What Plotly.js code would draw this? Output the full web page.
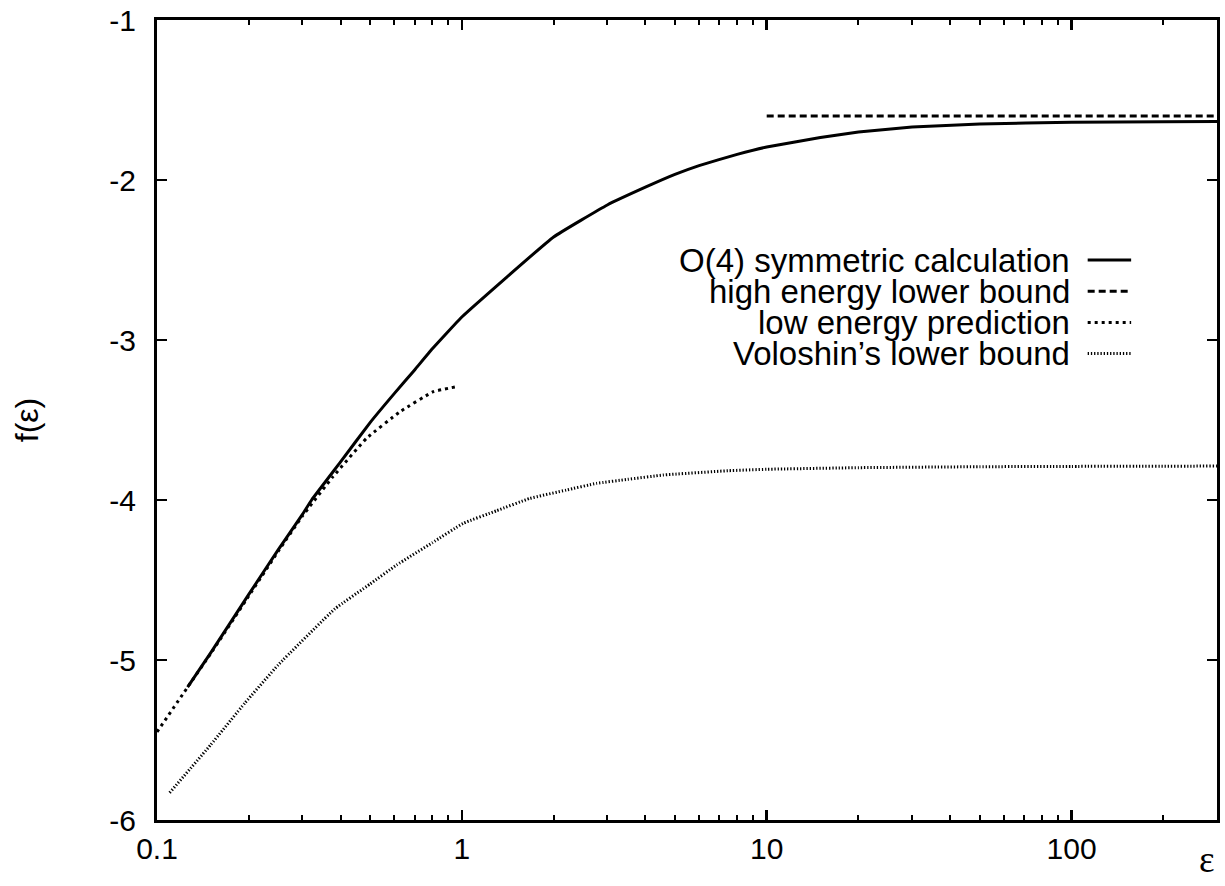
<!DOCTYPE html>
<html>
<head>
<meta charset="utf-8">
<script src="https://cdn.plot.ly/plotly-3.0.1.min.js"></script>
<style>html,body{margin:0;padding:0;background:#fff;}#chart{width:1225px;height:886px;}</style>
</head>
<body>
<div id="chart"></div>
<script>
// ---- data ----
const seriesNames = ["O(4) symmetric calculation", "high energy lower bound", "low energy prediction", "Voloshin\u2019s lower bound"];

const xSolid = [0.126, 0.15, 0.2, 0.25, 0.3, 0.3215, 0.4, 0.5, 0.6, 0.7, 0.8, 1, 2, 3, 4, 5, 6, 8, 10, 15, 20, 30, 50, 100, 200, 300];
const fSolid = [-5.17, -4.955, -4.59, -4.31, -4.09, -4.0, -3.762, -3.516, -3.335, -3.187, -3.055, -2.856, -2.356, -2.156, -2.045, -1.965, -1.91, -1.84, -1.794, -1.735, -1.70, -1.669, -1.65, -1.639, -1.636, -1.634];

const xHigh = [10, 300];
const fHigh = [-1.6, -1.6];

const xLow = [0.1, 0.126, 0.15, 0.2, 0.25, 0.3, 0.378, 0.487, 0.627, 0.806, 0.96];
const fLow = [-5.45, -5.17, -4.96, -4.60, -4.32, -4.10, -3.854, -3.614, -3.448, -3.323, -3.292];

const xVol = [0.11, 0.15, 0.194, 0.25, 0.3835, 0.5, 0.611, 0.8, 1.01, 1.3, 1.671, 2.2, 2.764, 3.5, 4.57, 7.46, 10, 20, 50, 100, 300];
const fVol = [-5.83, -5.53, -5.27, -5.03, -4.68, -4.525, -4.406, -4.267, -4.146, -4.067, -3.99, -3.938, -3.896, -3.871, -3.844, -3.817, -3.808, -3.798, -3.792, -3.79, -3.788];

const xTickVals = [0.1, 1, 10, 100];
const xTickText = ["0.1", "1", "10", "100"];
const xMinorVals = [0.2,0.3,0.4,0.5,0.6,0.7,0.8,0.9,2,3,4,5,6,7,8,9,20,30,40,50,60,70,80,90,200];
const yTickVals = [-6, -5, -4, -3, -2, -1];
const yTickText = ["-6", "-5", "-4", "-3", "-2", "-1"];

// ---- styles ----
const styles = [
  {color: "#000", width: 3, dash: "solid"},
  {color: "#000", width: 3, dash: "7px,4px"},
  {color: "#000", width: 3, dash: "3px,4px"},
  {color: "#000", width: 3, dash: "1.3px,1.9px"}
];
const xs = [xSolid, xHigh, xLow, xVol];
const ys = [fSolid, fHigh, fLow, fVol];

const traces = seriesNames.map((n, i) => ({
  x: xs[i], y: ys[i], name: n, type: "scatter", mode: "lines",
  line: {color: styles[i].color, width: styles[i].width, dash: styles[i].dash, shape: "spline", smoothing: 0.3},
  showlegend: false, hoverinfo: "skip"
}));

const font = "Liberation Sans, Arial, Helvetica, sans-serif";

// legend built as annotations + sample lines (text right-aligned, sample on the right)
const legTextX = 0.863, legS0 = 0.878, legS1 = 0.919;
const legY = [0.7, 0.661, 0.622, 0.583];
const annotations = seriesNames.map((n, i) => ({
  xref: "paper", yref: "paper", x: legTextX, y: legY[i], xanchor: "right", yanchor: "middle",
  text: n, showarrow: false, font: {family: font, size: 33, color: "#000"}
}));
const shapes = seriesNames.map((n, i) => ({
  type: "line", xref: "paper", yref: "paper", x0: legS0, x1: legS1, y0: legY[i], y1: legY[i],
  line: {color: styles[i].color, width: styles[i].width, dash: styles[i].dash}
}));
annotations.push({
  xref: "paper", yref: "paper", x: 0.9906, y: -0.0775, xanchor: "center", yanchor: "bottom",
  text: "\u03b5", showarrow: false, font: {family: "Liberation Serif, DejaVu Serif, serif", size: 37, color: "#000"}
});

const layout = {
  width: 1225, height: 886,
  margin: {l: 157, r: 8, t: 20, b: 66, pad: 0},
  paper_bgcolor: "#fff", plot_bgcolor: "#fff",
  showlegend: false,
  xaxis: {
    type: "log", range: [-1, Math.log10(300)],
    tickmode: "array", tickvals: xTickVals, ticktext: xTickText,
    ticks: "inside", ticklen: 10, tickwidth: 2.5, tickcolor: "#000",
    minor: {tickmode: "array", tickvals: xMinorVals, ticks: "inside", ticklen: 5, tickwidth: 2, tickcolor: "#000", showgrid: false},
    showline: true, linewidth: 3, linecolor: "#000", mirror: "ticks",
    showgrid: false, zeroline: false,
    tickfont: {family: font, size: 30, color: "#000"},
    ticklabelstandoff: 0
  },
  yaxis: {
    range: [-6, -1],
    tickmode: "array", tickvals: yTickVals, ticktext: yTickText,
    ticks: "inside", ticklen: 10, tickwidth: 2.5, tickcolor: "#000",
    showline: true, linewidth: 3, linecolor: "#000", mirror: "ticks",
    showgrid: false, zeroline: false,
    tickfont: {family: font, size: 30, color: "#000"},
    ticklabelstandoff: 12,
    title: {text: "f(\u03b5)", font: {family: font, size: 32, color: "#000"}, standoff: 62}
  },
  annotations: annotations,
  shapes: shapes
};

Plotly.newPlot("chart", traces, layout, {staticPlot: true, displayModeBar: false});
</script>
</body>
</html>
